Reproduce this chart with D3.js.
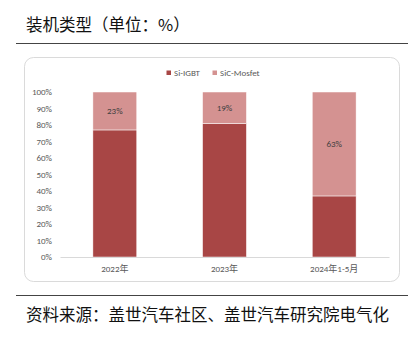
<!DOCTYPE html>
<html><head><meta charset="utf-8">
<script src="https://cdn.jsdelivr.net/npm/d3@7"></script>
<style>
html,body{margin:0;padding:0;background:#fff;}
svg{display:block;}
</style></head>
<body>
<svg id="chart" width="418" height="338"></svg>
<script>
const categories = ["2022年", "2023年", "2024年1-5月"];
const seriesNames = ["Si-IGBT", "SiC-Mosfet"];
const siIGBT = [77, 81, 37];
const sicMosfet = [23, 19, 63];
const yTicks = [0, 10, 20, 30, 40, 50, 60, 70, 80, 90, 100];
const title = "装机类型（单位：%）";
const source = "资料来源：盖世汽车社区、盖世汽车研究院电气化";

const colors = ["#A84645", "#D49291"];
const cjk = "'Noto Sans CJK SC', 'Noto Sans', sans-serif";
const latin = "Carlito, 'Liberation Sans', 'Noto Sans CJK SC', sans-serif";

const svg = d3.select("#chart");

// title
svg.append("text").attr("x", 26).attr("y", 31)
  .attr("font-family", cjk).attr("font-size", 16.5).attr("fill", "#111")
  .text(title);
svg.append("line").attr("x1", 16).attr("x2", 408).attr("y1", 43.5).attr("y2", 43.5)
  .attr("stroke", "#444").attr("stroke-width", 1.2);

// panel box
svg.append("rect").attr("x", 24.5).attr("y", 57.5).attr("width", 375).attr("height", 224)
  .attr("rx", 9).attr("fill", "#fff").attr("stroke", "#d0d0d0").attr("stroke-width", 0.8);

const x = d3.scaleBand().domain(categories).range([60, 389]).paddingInner(0.6).paddingOuter(0.3);
const y = d3.scaleLinear().domain([0, 100]).range([257, 92]);

const data = categories.map((c, i) => ({cat: c, vals: [siIGBT[i], sicMosfet[i]]}));
const stack = d3.stack().keys([0, 1]).value((d, k) => d.vals[k]);
const stacked = stack(data);

const g = svg.append("g");
stacked.forEach((layer, k) => {
  g.selectAll(null).data(layer).enter().append("rect")
    .attr("x", d => x(d.data.cat))
    .attr("width", x.bandwidth())
    .attr("y", d => y(d[1]))
    .attr("height", d => y(d[0]) - y(d[1]))
    .attr("fill", colors[k])
    .attr("stroke", "#fff").attr("stroke-width", 0.5);
});

// data labels for SiC
g.selectAll(null).data(stacked[1]).enter().append("text")
  .attr("x", d => x(d.data.cat) + x.bandwidth() / 2)
  .attr("y", d => (y(d[0]) + y(d[1])) / 2 + 3)
  .attr("text-anchor", "middle")
  .attr("font-family", latin).attr("font-size", 9).attr("fill", "#404040")
  .text(d => d.data.vals[1] + "%");

// y axis
const yAxis = d3.axisLeft(y).tickValues(yTicks).tickFormat(d => d + "%").tickSize(0).tickPadding(0);
const ya = svg.append("g").attr("transform", "translate(52,0)").call(yAxis);
ya.select(".domain").remove();
ya.selectAll("text").attr("font-family", latin).attr("font-size", 9).attr("fill", "#595959");

// x axis
const xAxis = d3.axisBottom(x).tickSize(0).tickPadding(9);
const xa = svg.append("g").attr("transform", "translate(0,257)").call(xAxis);
xa.select(".domain").attr("stroke", "#d9d9d9").attr("stroke-width", 1);
xa.selectAll("text").attr("font-family", latin).attr("font-size", 9).attr("fill", "#595959");

// legend
const legendX = [166.5, 212.5];
seriesNames.forEach((n, k) => {
  svg.append("rect").attr("x", legendX[k]).attr("y", 70.5).attr("width", 4.5).attr("height", 4.5)
    .attr("fill", colors[k]);
  svg.append("text").attr("x", legendX[k] + 7.5).attr("y", 75.5)
    .attr("font-family", latin).attr("font-size", 9).attr("fill", "#595959").text(n);
});

// footer
svg.append("line").attr("x1", 16).attr("x2", 408).attr("y1", 295.5).attr("y2", 295.5)
  .attr("stroke", "#444").attr("stroke-width", 1.2);
svg.append("text").attr("x", 26).attr("y", 321)
  .attr("font-family", cjk).attr("font-size", 16.5).attr("fill", "#111")
  .text(source);
</script>
</body></html>
